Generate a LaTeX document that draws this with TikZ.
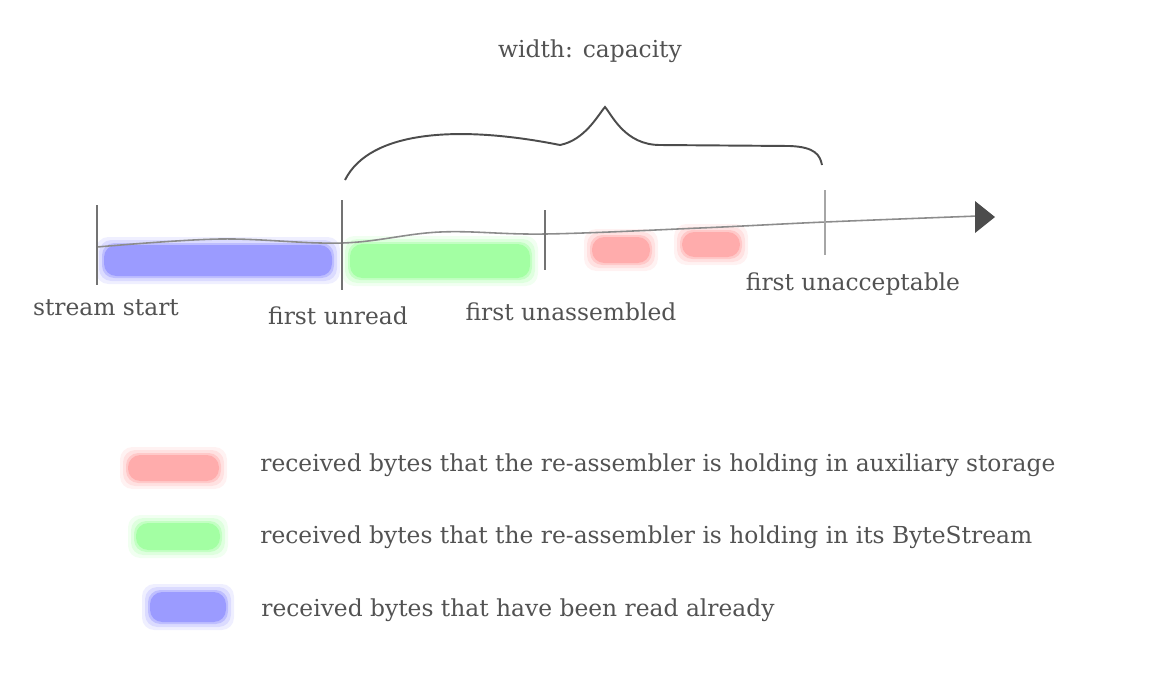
\documentclass[tikz,border=0pt]{standalone}
\usepackage{fontspec}
\setmainfont{DejaVu Serif}
\begin{document}
\begin{tikzpicture}[x=0.02cm,y=-0.02cm,
  lbl/.style={text=black!68,font=\fontsize{13.3}{15}\selectfont,inner sep=0pt},
  leg/.style={lbl,anchor=west},
  tick/.style={draw=black!55,line width=0.8pt},
  axis/.style={draw=black!45,line width=0.9pt}]
\useasboundingbox (0,0) rectangle (1164,691);
\newcommand{\blob}[5]{% x1 y1 x2 y2 color
  \foreach \o/\e in {0.1/8,0.15/5,0.25/2,0.4/0}{
    \fill[#5,opacity=\o,rounded corners=7] (#1-\e,#2-\e) rectangle (#3+\e,#4+\e);}}
% blobs
\blob{104}{245}{332}{276}{blue!60}
\blob{350}{244}{530}{278}{green!55}
\blob{592}{237}{650}{263}{red!50}
\blob{682}{232}{740}{257}{red!50}
% axis
\coordinate (s) at (97,247);
\coordinate (u) at (342,243);
\coordinate (a) at (545,234);
\coordinate (c) at (825,222);
\coordinate (e) at (978,216);
\draw[axis] plot[smooth,tension=0.6] coordinates {(s) (220,239) (u) (440,232) (a) (700,228) (c) (e)};
\fill[black!70] (975,201) -- (995,217) -- (975,233) -- cycle;
% ticks
\draw[tick] (97,205) -- (97,285);
\draw[tick] (342,200) -- (342,290);
\draw[tick] (545,210) -- (545,270);
\draw[tick,black!35] (825,190) -- (825,255);
% brace
\coordinate (b1) at (345,180);
\coordinate (b2) at (822,165);
\coordinate (bp) at (605,107);
\draw[black!70,line width=1.1pt] (b1) .. controls (370,130) and (460,125) .. (560,145)
  .. controls (585,140) and (598,115) .. (bp)
  .. controls (612,115) and (625,145) .. (660,145) -- (790,146)
  .. controls (815,147) and (820,155) .. (b2);
% labels
\node[lbl] (wc) at (590,51) {width: capacity};
\node[lbl] (ss) at (106,308) {stream start};
\node[lbl] (fu) at (338,316) {first unread};
\node[lbl] (fa) at (571,312) {first unassembled};
\node[lbl] (fx) at (853,284) {first unacceptable};
% legend
\blob{128}{455}{219}{481}{red!50}
\blob{136}{523}{220}{550}{green!55}
\blob{150}{592}{226}{622}{blue!60}
\node[leg] (l1) at (260,465) {received bytes that the re-assembler is holding in auxiliary storage};
\node[leg] (l2) at (260,537) {received bytes that the re-assembler is holding in its ByteStream};
\node[leg] (l3) at (261,610) {received bytes that have been read already};
\end{tikzpicture}
\end{document}
